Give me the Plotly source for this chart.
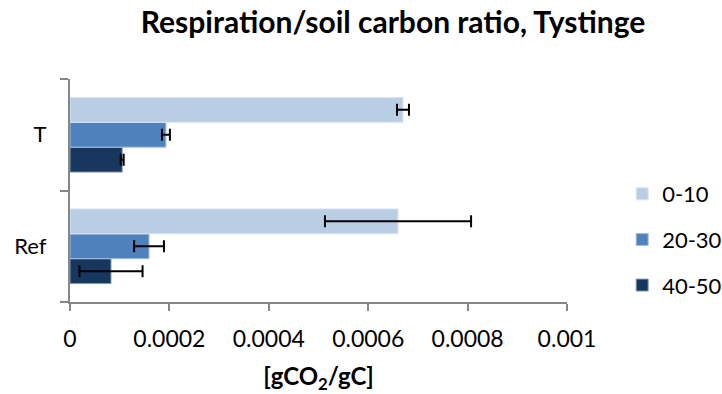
import plotly.graph_objects as go

# Sites on the category axis (bottom to top)
sites = ["Ref", "T"]

# Soil depth layers (cm), listed top-down as in the legend
depths = ["0-10", "20-30", "40-50"]

# Respiration / soil carbon ratio [gCO2/gC], one list per depth, ordered like `sites`
ratio_0_10 = [0.000660, 0.000670]
ratio_20_30 = [0.000159, 0.000193]
ratio_40_50 = [0.0000825, 0.000105]

# Error bar half-widths, same ordering
err_0_10 = [0.000147, 0.000012]
err_20_30 = [0.000030, 0.000008]
err_40_50 = [0.0000635, 0.000003]

x_ticks = [0, 0.0002, 0.0004, 0.0006, 0.0008, 0.001]
x_tick_text = ["0", "0.0002", "0.0004", "0.0006", "0.0008", "0.001"]

colors = {"0-10": "#B9CDE5", "20-30": "#4F81BD", "40-50": "#17375E"}
outline = {"0-10": "#DCE6F2", "20-30": "#A7C0DE", "40-50": "#8B9BAF"}

series = {
    "0-10": (ratio_0_10, err_0_10),
    "20-30": (ratio_20_30, err_20_30),
    "40-50": (ratio_40_50, err_40_50),
}

FONT = "Lato, Calibri, Carlito, sans-serif"
AXIS_GREY = "#868686"

fig = go.Figure()

# Horizontal grouped bars stack their traces bottom-up inside each group,
# so the deepest layer goes in first to leave 0-10 on top.
for depth in reversed(depths):
    vals, errs = series[depth]
    fig.add_trace(
        go.Bar(
            y=sites,
            x=vals,
            name=depth,
            orientation="h",
            marker=dict(color=colors[depth], line=dict(color=outline[depth], width=1)),
            error_x=dict(
                type="data",
                array=errs,
                visible=True,
                color="black",
                thickness=2,
                width=6,
            ),
            legendgroup=depth,
            legendrank=depths.index(depth) + 1,
        )
    )

fig.update_layout(
    width=722,
    height=394,
    margin=dict(l=70, r=155, t=79, b=92, autoexpand=False),
    paper_bgcolor="white",
    plot_bgcolor="white",
    barmode="group",
    bargap=0.33,
    bargroupgap=0,
    font=dict(family=FONT, size=22, color="black"),
    title=dict(
        text="<b>Respiration/soil carbon ratio, Tystinge</b>",
        x=0.65,
        xref="paper",
        xanchor="center",
        y=0.942,
        yanchor="middle",
        font=dict(family=FONT, size=30, color="black"),
    ),
    legend=dict(
        x=1.111,
        xanchor="left",
        y=0.28,
        yanchor="middle",
        traceorder="grouped",
        tracegroupgap=14,
        font=dict(family=FONT, size=22, color="black"),
        itemwidth=30,
        bgcolor="rgba(0,0,0,0)",
    ),
    showlegend=True,
)

fig.update_xaxes(
    range=[0, 0.001],
    tickvals=x_ticks,
    ticktext=x_tick_text,
    showgrid=False,
    zeroline=False,
    showline=True,
    linecolor=AXIS_GREY,
    linewidth=2,
    ticks="outside",
    ticklen=7,
    tickwidth=2,
    tickcolor=AXIS_GREY,
    ticklabelstandoff=8,
    tickfont=dict(family=FONT, size=23, color="black"),
    title=dict(
        text="<b>[gCO<sub>2</sub>/gC]</b>",
        font=dict(family=FONT, size=24, color="black"),
        standoff=22,
    ),
)

fig.update_yaxes(
    categoryorder="array",
    categoryarray=sites,
    showgrid=False,
    zeroline=False,
    showline=True,
    linecolor=AXIS_GREY,
    linewidth=2,
    ticks="outside",
    tickson="boundaries",
    ticklen=8,
    tickwidth=2,
    tickcolor=AXIS_GREY,
    ticklabelstandoff=17,
    tickfont=dict(family=FONT, size=22, color="black"),
)

fig.write_html("out.html")
